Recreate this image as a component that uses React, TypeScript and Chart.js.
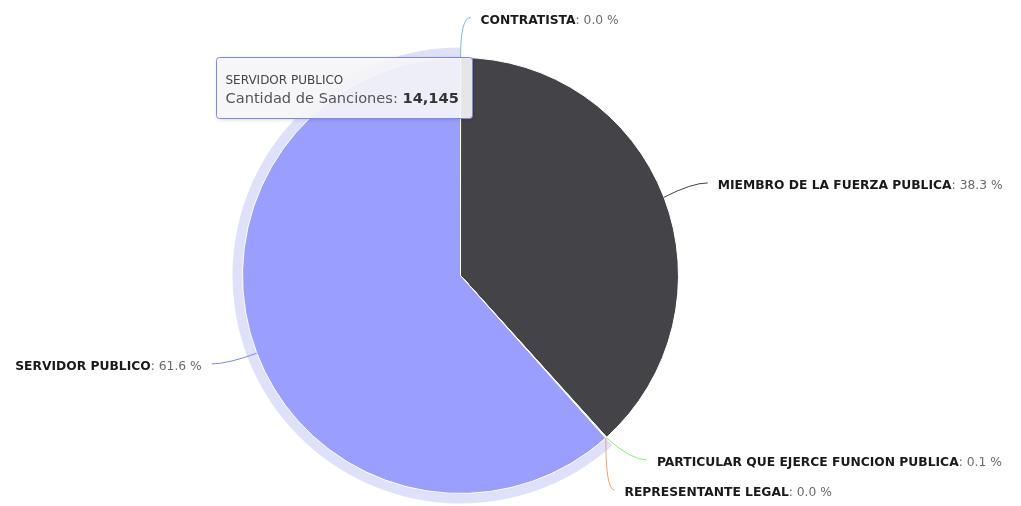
import React, { useEffect, useRef } from "react";
import { Chart, registerables } from "chart.js";

Chart.register(...registerables);

const categories = [
  "CONTRATISTA",
  "MIEMBRO DE LA FUERZA PUBLICA",
  "PARTICULAR QUE EJERCE FUNCION PUBLICA",
  "REPRESENTANTE LEGAL",
  "SERVIDOR PUBLICO",
];
const sanciones = [2, 8795, 18, 3, 14145];
const sliceColors = ["#7cb5ec", "#434348", "#90ed7d", "#f7a35c", "#8085e9"];
const seriesName = "Cantidad de Sanciones";
const hoveredIndex = 4;

const FONT = "'DejaVu Sans', Verdana, sans-serif";

function hexToRgb(h: string) {
  const n = parseInt(h.slice(1), 16);
  return [(n >> 16) & 255, (n >> 8) & 255, n & 255];
}
function brighten(h: string, amt: number) {
  const c = hexToRgb(h).map((v) => Math.min(255, Math.round(v + 255 * amt)));
  return `rgb(${c[0]},${c[1]},${c[2]})`;
}
function rgba(h: string, a: number) {
  const c = hexToRgb(h);
  return `rgba(${c[0]},${c[1]},${c[2]},${a})`;
}

const total = sanciones.reduce((s, v) => s + v, 0);

const pieDecor = {
  id: "pieDecor",
  beforeDatasetsDraw(chart: any) {
    const ctx = chart.ctx;
    const el = chart.getDatasetMeta(0).data[hoveredIndex];
    const p = el.getProps(["x", "y", "startAngle", "endAngle", "outerRadius"], true);
    ctx.save();
    ctx.beginPath();
    ctx.arc(p.x, p.y, p.outerRadius + 10, p.startAngle, p.endAngle);
    ctx.arc(p.x, p.y, p.outerRadius, p.endAngle, p.startAngle, true);
    ctx.closePath();
    ctx.fillStyle = rgba(sliceColors[hoveredIndex], 0.25);
    ctx.fill();
    ctx.restore();
  },
  afterDatasetsDraw(chart: any) {
    const ctx = chart.ctx;
    const meta = chart.getDatasetMeta(0);
    const items = meta.data.map((el: any, i: number) => {
      const p = el.getProps(["x", "y", "startAngle", "endAngle", "outerRadius"], true);
      const a = (p.startAngle + p.endAngle) / 2;
      const s = Math.sin(a);
      const Ry = p.outerRadius + (s < 0 ? 40 : 30);
      return {
        i,
        a,
        cx: p.x,
        cy: p.y,
        r: p.outerRadius,
        right: Math.cos(a) >= 0,
        y: p.y + Ry * s,
      };
    });
    [true, false].forEach((side) => {
      const list = items.filter((s: any) => s.right === side).sort((a: any, b: any) => a.y - b.y);
      for (let k = 1; k < list.length; k++) {
        if (list[k].y < list[k - 1].y + 30) list[k].y = list[k - 1].y + 30;
      }
    });
    ctx.save();
    items.forEach((s: any) => {
      const dir = s.right ? 1 : -1;
      const ex = s.cx + s.r * Math.cos(s.a);
      const ey = s.cy + s.r * Math.sin(s.a);
      const dy = s.y - s.cy;
      const Rc = s.r + 46;
      const natural = Math.abs(Rc * Math.cos(s.a)) + 10;
      const circ = Math.sqrt(Math.max(Rc * Rc - dy * dy, 0));
      const dxEnd = Math.min(natural, circ);
      const endX = s.cx + dir * dxEnd;
      let bendX = endX - dir * 16;
      if (s.right) bendX = Math.max(bendX, ex);
      else bendX = Math.min(bendX, ex);
      const ly = s.y;
      ctx.beginPath();
      ctx.moveTo(ex, ey);
      ctx.quadraticCurveTo(bendX, ly, endX, ly);
      ctx.strokeStyle = sliceColors[s.i];
      ctx.lineWidth = 1;
      ctx.stroke();

      const name = categories[s.i];
      const pct = ": " + ((sanciones[s.i] / total) * 100).toFixed(1) + " %";
      const fs = 12.3;
      ctx.textBaseline = "middle";
      ctx.textAlign = "left";
      ctx.font = `bold ${fs}px ${FONT}`;
      const wName = ctx.measureText(name).width;
      ctx.font = `${fs}px ${FONT}`;
      const wPct = ctx.measureText(pct).width;
      const tx = s.right ? endX + 10 : endX - 10 - wName - wPct;
      const ty = s.y + 3;
      ctx.font = `bold ${fs}px ${FONT}`;
      ctx.fillStyle = "#1a1a1a";
      ctx.fillText(name, tx, ty);
      ctx.font = `${fs}px ${FONT}`;
      ctx.fillStyle = "#6a6a6a";
      ctx.fillText(pct, tx + wName, ty);
    });
    ctx.restore();
  },
  afterDraw(chart: any) {
    const ctx = chart.ctx;
    const el = chart.getDatasetMeta(0).data[hoveredIndex];
    const p = el.getProps(["x", "y", "outerRadius"], true);
    const bx = Math.round(p.x - 245) + 0.5;
    const by = Math.round(chart.chartArea.top) + 0.5;
    const w = 256;
    const h = 61;
    ctx.save();
    ctx.shadowColor = "rgba(0,0,0,0.18)";
    ctx.shadowBlur = 4;
    ctx.shadowOffsetX = 1;
    ctx.shadowOffsetY = 1;
    ctx.beginPath();
    ctx.roundRect(bx, by, w, h, 3);
    ctx.fillStyle = "rgba(250,250,253,0.9)";
    ctx.fill();
    ctx.shadowColor = "transparent";
    ctx.strokeStyle = sliceColors[hoveredIndex];
    ctx.lineWidth = 1;
    ctx.stroke();

    ctx.textBaseline = "middle";
    ctx.textAlign = "left";
    ctx.font = `12px ${FONT}`;
    ctx.fillStyle = "#444";
    ctx.fillText(categories[hoveredIndex], bx + 9, by + 23);
    const label = seriesName + ": ";
    ctx.font = `14.6px ${FONT}`;
    ctx.fillStyle = "#555";
    ctx.fillText(label, bx + 9, by + 42);
    const lw = ctx.measureText(label).width;
    ctx.font = `bold 14.6px ${FONT}`;
    ctx.fillStyle = "#333";
    ctx.fillText(sanciones[hoveredIndex].toLocaleString("en-US"), bx + 9 + lw, by + 42);
    ctx.restore();
  },
};

export default function App() {
  const ref = useRef<HTMLCanvasElement | null>(null);
  useEffect(() => {
    document.body.style.margin = "0";
    const bg = sliceColors.map((c, i) => (i === hoveredIndex ? brighten(c, 0.1) : c));
    const chart = new Chart(ref.current!, {
      type: "pie",
      data: {
        labels: categories,
        datasets: [
          {
            label: seriesName,
            data: sanciones,
            backgroundColor: bg,
            hoverBackgroundColor: bg,
            borderColor: "#ffffff",
            borderWidth: 1,
            hoverBorderWidth: 1,
            hoverOffset: 0,
          },
        ],
      },
      options: {
        animation: false,
        responsive: true,
        maintainAspectRatio: false,
        events: [],
        layout: { padding: { top: 57, bottom: 12, left: 242, right: 342 } },
        plugins: {
          legend: { display: false },
          tooltip: { enabled: false },
        },
      },
      plugins: [pieDecor],
    });
    return () => chart.destroy();
  }, []);
  return (
    <div style={{ position: "relative", width: 1021, height: 506, background: "#fff" }}>
      <canvas ref={ref} />
    </div>
  );
}
